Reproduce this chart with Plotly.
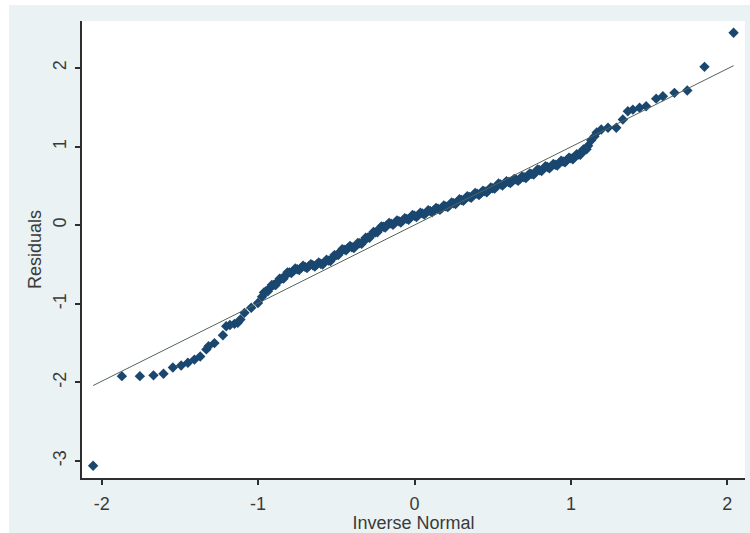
import plotly.graph_objects as go

# Theoretical normal quantiles (x) and residuals (y)
inv_normal = [
    -2.055, -1.871, -1.756, -1.669, -1.605, -1.545, -1.492, -1.449, -1.407, -1.370,
    -1.331, -1.317, -1.279, -1.225, -1.204, -1.180, -1.151, -1.130, -1.113, -1.087,
    -1.044, -1.001,
    -0.975, -0.950, -0.925, -0.900, -0.875, -0.850, -0.825, -0.800, -0.775, -0.750,
    -0.725, -0.700, -0.675, -0.650, -0.625, -0.600, -0.575, -0.550, -0.525, -0.500,
    -0.475, -0.450, -0.425, -0.400, -0.375, -0.350, -0.325, -0.300, -0.275, -0.250,
    -0.225, -0.200, -0.175, -0.150, -0.125, -0.100, -0.075, -0.050, -0.025, 0.000,
    0.025, 0.050, 0.075, 0.100, 0.125, 0.150, 0.175, 0.200, 0.225, 0.250,
    0.275, 0.300, 0.325, 0.350, 0.375, 0.400, 0.425, 0.450, 0.475, 0.500,
    0.525, 0.550, 0.575, 0.600, 0.625, 0.650, 0.675, 0.700, 0.725, 0.750,
    0.775, 0.800, 0.825, 0.850, 0.875, 0.900, 0.925, 0.950, 0.975, 1.000,
    1.025, 1.050, 1.070, 1.090, 1.110, 1.130, 1.150, 1.165,
    1.194, 1.237, 1.290, 1.332, 1.364, 1.396, 1.439, 1.481, 1.545, 1.588,
    1.662, 1.744, 1.854, 2.040,
    # interleaved points of the dense middle band
    -0.9625, -0.9375, -0.9125, -0.8875, -0.8625, -0.8375, -0.8125, -0.7875, -0.7625, -0.7375,
    -0.7125, -0.6875, -0.6625, -0.6375, -0.6125, -0.5875, -0.5625, -0.5375, -0.5125, -0.4875,
    -0.4625, -0.4375, -0.4125, -0.3875, -0.3625, -0.3375, -0.3125, -0.2875, -0.2625, -0.2375,
    -0.2125, -0.1875, -0.1625, -0.1375, -0.1125, -0.0875, -0.0625, -0.0375, -0.0125, 0.0125,
    0.0375, 0.0625, 0.0875, 0.1125, 0.1375, 0.1625, 0.1875, 0.2125, 0.2375, 0.2625,
    0.2875, 0.3125, 0.3375, 0.3625, 0.3875, 0.4125, 0.4375, 0.4625, 0.4875, 0.5125,
    0.5375, 0.5625, 0.5875, 0.6125, 0.6375, 0.6625, 0.6875, 0.7125, 0.7375, 0.7625,
    0.7875, 0.8125, 0.8375, 0.8625, 0.8875, 0.9125, 0.9375, 0.9625, 0.9875, 1.0125,
    1.0375, 1.0600, 1.0800, 1.1000,
]
residuals = [
    -3.06, -1.92, -1.92, -1.91, -1.89, -1.81, -1.785, -1.75, -1.71, -1.67,
    -1.58, -1.54, -1.50, -1.40, -1.285, -1.27, -1.255, -1.24, -1.20, -1.115,
    -1.05, -0.99,
    -0.91, -0.84, -0.80, -0.76, -0.72, -0.68, -0.64, -0.60, -0.58, -0.56,
    -0.54, -0.53, -0.52, -0.51, -0.50, -0.49, -0.47, -0.45, -0.42, -0.38,
    -0.34, -0.31, -0.29, -0.28, -0.26, -0.23, -0.20, -0.16, -0.12, -0.09,
    -0.05, -0.02, 0.00, 0.02, 0.03, 0.05, 0.06, 0.08, 0.10, 0.12,
    0.13, 0.15, 0.16, 0.18, 0.19, 0.21, 0.22, 0.24, 0.26, 0.28,
    0.30, 0.32, 0.34, 0.36, 0.38, 0.40, 0.41, 0.43, 0.45, 0.47,
    0.50, 0.52, 0.53, 0.55, 0.56, 0.58, 0.59, 0.61, 0.63, 0.65,
    0.68, 0.70, 0.72, 0.74, 0.75, 0.77, 0.79, 0.81, 0.83, 0.85,
    0.87, 0.90, 0.93, 0.96, 1.01, 1.08, 1.13, 1.18,
    1.218, 1.239, 1.239, 1.345, 1.45, 1.47, 1.494, 1.514, 1.61, 1.64,
    1.684, 1.714, 2.015, 2.448,
    -0.855, -0.84, -0.76, -0.76, -0.68, -0.68, -0.60, -0.61, -0.55, -0.57,
    -0.515, -0.545, -0.495, -0.525, -0.475, -0.50, -0.44, -0.455, -0.38, -0.38,
    -0.305, -0.32, -0.265, -0.29, -0.225, -0.235, -0.16, -0.16, -0.085, -0.09,
    -0.015, -0.03, 0.03, 0.005, 0.06, 0.035, 0.09, 0.07, 0.13, 0.105,
    0.16, 0.135, 0.19, 0.165, 0.22, 0.195, 0.25, 0.23, 0.29, 0.27,
    0.33, 0.31, 0.37, 0.35, 0.41, 0.385, 0.44, 0.42, 0.48, 0.465,
    0.53, 0.505, 0.56, 0.535, 0.59, 0.565, 0.62, 0.60, 0.66, 0.645,
    0.71, 0.69, 0.75, 0.725, 0.78, 0.76, 0.82, 0.80, 0.86, 0.84,
    0.905, 0.895, 0.965, 0.965,
]

# Reference line (mean + sd * inverse normal)
ref_x = [-2.055, 2.040]
ref_y = [-2.04, 2.03]

x_ticks = [-2, -1, 0, 1, 2]
y_ticks = [-3, -2, -1, 0, 1, 2]

AX = "#2e2e2e"
TXT = "#3a3a3a"
FONT = "Liberation Sans, Arial, sans-serif"

fig = go.Figure()
fig.add_trace(go.Scatter(
    x=inv_normal, y=residuals, mode="markers",
    marker=dict(symbol="diamond", size=8, color="#1a476f", line=dict(width=0)),
    showlegend=False, hoverinfo="x+y",
))
fig.add_trace(go.Scatter(
    x=ref_x, y=ref_y, mode="lines",
    line=dict(color="#55645a", width=1),
    showlegend=False, hoverinfo="skip",
))

fig.update_layout(
    width=750, height=533,
    margin=dict(l=82, r=5, t=21, b=55),
    paper_bgcolor="#EAF2F3",
    plot_bgcolor="#FFFFFF",
    font=dict(family=FONT, size=18, color=TXT),
)
# white strips at top and left of the outer region
fig.add_shape(type="rect", xref="paper", yref="paper",
              x0=-82/663, x1=1 + 5/663, y0=1 + 16/457, y1=1 + 21/457,
              fillcolor="white", line=dict(width=0), layer="below")
fig.add_shape(type="rect", xref="paper", yref="paper",
              x0=-82/663, x1=-73/663, y0=-55/457, y1=1 + 21/457,
              fillcolor="white", line=dict(width=0), layer="below")

fig.update_xaxes(
    range=[-2.126, 2.113], tickvals=x_ticks, ticktext=[str(v) for v in x_ticks],
    showgrid=False, zeroline=False, showline=True, linecolor=AX, linewidth=1.5,
    ticks="outside", ticklen=5, tickwidth=1.5, tickcolor=AX,
    tickfont=dict(size=18, color=TXT), ticklabelstandoff=4,
    title=dict(text="Inverse Normal", font=dict(size=18, color=TXT), standoff=0),
)
fig.update_yaxes(
    range=[-3.216, 2.598], tickvals=y_ticks, ticktext=[str(v) for v in y_ticks],
    tickangle=-90,
    showgrid=False, zeroline=False, showline=True, linecolor=AX, linewidth=1.5,
    ticks="outside", ticklen=5, tickwidth=1.5, tickcolor=AX,
    tickfont=dict(size=18, color=TXT), ticklabelstandoff=2,
    title=dict(text="Residuals", font=dict(size=18, color=TXT), standoff=4),
)

fig.write_html("out.html")
